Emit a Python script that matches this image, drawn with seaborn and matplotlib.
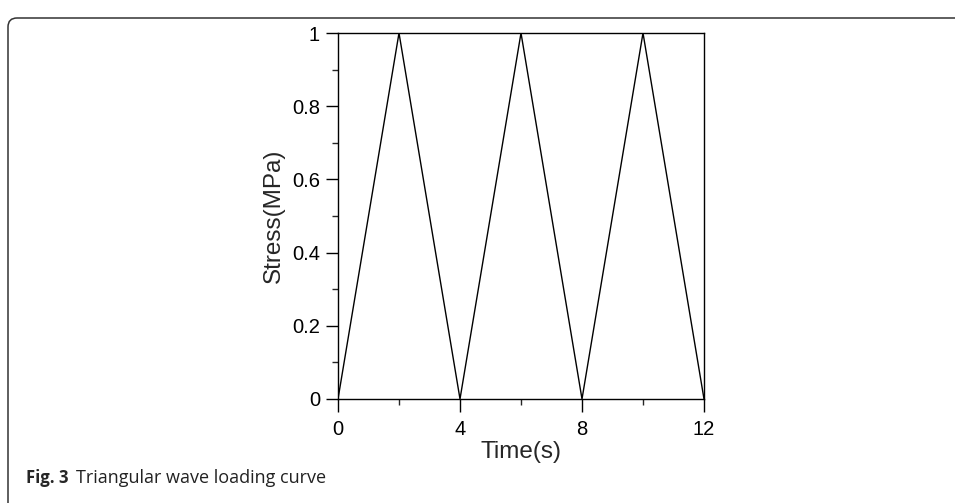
import seaborn as sns
import matplotlib.pyplot as plt
import pandas as pd
from matplotlib.patches import FancyBboxPatch
from matplotlib.transforms import IdentityTransform
from matplotlib.ticker import MultipleLocator

# triangular wave values
time_s = [0, 2, 4, 6, 8, 10, 12]
stress_mpa = [0, 1, 0, 1, 0, 1, 0]
x_ticks = [0, 4, 8, 12]
y_ticks = [0, 0.2, 0.4, 0.6, 0.8, 1]
y_tick_labels = ['0', '0.2', '0.4', '0.6', '0.8', '1']

df = pd.DataFrame({'Time(s)': time_s, 'Stress(MPa)': stress_mpa})

sns.set_style("white")
plt.rcParams['font.family'] = ['Liberation Sans', 'DejaVu Sans']

fig = plt.figure(figsize=(9.55, 5.03), dpi=100)
ax = fig.add_axes([338/955, 1 - 399/503, (704 - 338)/955, (399 - 33)/503])

sns.lineplot(data=df, x='Time(s)', y='Stress(MPa)', color='black', linewidth=1, ax=ax)

ax.set_xlim(0, 12)
ax.set_ylim(0, 1)
ax.set_xticks(x_ticks)
ax.set_xticklabels([str(t) for t in x_ticks])
ax.set_yticks(y_ticks)
ax.set_yticklabels(y_tick_labels)
ax.xaxis.set_minor_locator(MultipleLocator(2))
ax.yaxis.set_minor_locator(MultipleLocator(0.1))
ax.tick_params(which='major', direction='out', length=9, width=1, labelsize=14.5,
               bottom=True, left=True, colors='black')
ax.tick_params(axis='x', which='major', pad=6)
ax.tick_params(axis='y', which='major', pad=4)
ax.tick_params(which='minor', direction='out', length=4.5, width=1, bottom=True, left=True)
for s in ax.spines.values():
    s.set_color('black')
    s.set_linewidth(1)
ax.set_xlabel('Time(s)', fontsize=17.5, labelpad=1.5)
ax.set_ylabel('Stress(MPa)', fontsize=17.5, labelpad=5)

# figure frame with rounded top-left corner
frame = FancyBboxPatch((8, -60), 1100, 545, boxstyle='round,pad=0,rounding_size=9',
                       transform=IdentityTransform(), facecolor='none',
                       edgecolor='#333333', linewidth=1.1)
fig.patches.append(frame)

fig.text(26/955, 1 - 478/503, 'Fig. 3', fontsize=12, fontweight='bold',
         family=['Open Sans', 'DejaVu Sans'], va='center', ha='left')
fig.text(76/955, 1 - 478/503, 'Triangular wave loading curve', fontsize=13,
         family=['Open Sans', 'DejaVu Sans'], va='center', ha='left', color='#222222')

fig.savefig('out.png', dpi=100)
